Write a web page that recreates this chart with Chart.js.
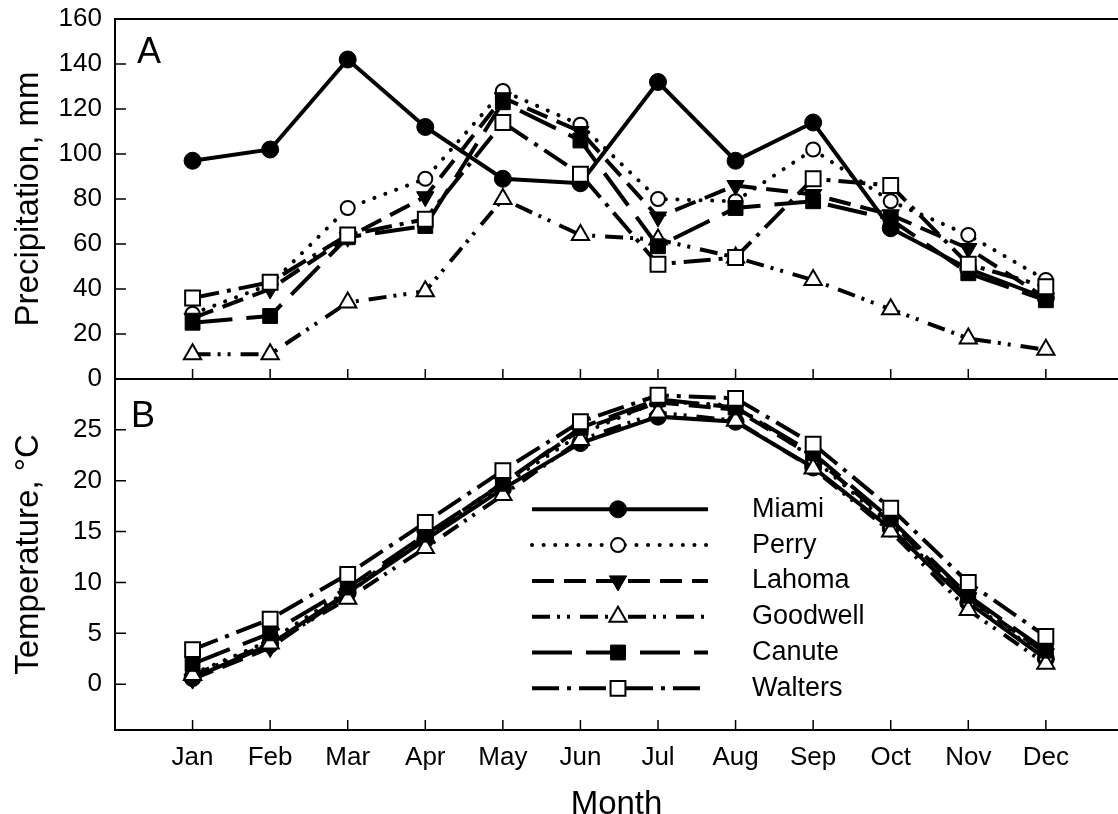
<!DOCTYPE html>
<html lang="en">
<head>
<meta charset="UTF-8">
<title>Monthly precipitation and temperature</title>
<script src="https://cdn.jsdelivr.net/npm/chart.js"></script>
<style>
    html, body {
        margin: 0;
        padding: 0;
        width: 1118px;
        height: 814px;
        overflow: hidden;
        background: #ffffff;
    }
    canvas {
        position: absolute;
        left: 0;
    }
    #precipChart { top: 0; }
    #tempChart { top: 379px; }
</style>
</head>
<body>
<canvas id="precipChart" width="1118" height="395"></canvas>
<canvas id="tempChart" width="1118" height="445"></canvas>

<script>
const months = ['Jan', 'Feb', 'Mar', 'Apr', 'May', 'Jun', 'Jul', 'Aug', 'Sep', 'Oct', 'Nov', 'Dec'];
const sites = ['Miami', 'Perry', 'Lahoma', 'Goodwell', 'Canute', 'Walters'];
const precipTicks = [0, 20, 40, 60, 80, 100, 120, 140, 160];
const tempTicks = [0, 5, 10, 15, 20, 25];

// precipitation, mm
const precipMiami    = [97, 102, 142, 112, 89, 87, 132, 97, 114, 67, 49, 36];
const precipPerry    = [29, 42, 76, 89, 128, 113, 80, 79, 102, 79, 64, 44];
const precipLahoma   = [27, 40, 63, 81, 125, 110, 72, 86, 82, 73, 58, 36];
const precipGoodwell = [11, 11, 34, 39, 80, 64, 62, 54, 44, 31, 18, 13];
const precipCanute   = [25, 28, 63, 68, 123, 106, 59, 76, 79, 71, 47, 35];
const precipWalters  = [36, 43, 64, 71, 114, 91, 51, 54, 89, 86, 51, 41];

// temperature, C
const tempMiami    = [0.6, 3.9, 9.0, 14.2, 19.2, 23.7, 26.3, 25.8, 21.3, 15.3, 8.0, 2.5];
const tempPerry    = [1.0, 4.3, 9.2, 14.4, 19.5, 24.6, 27.8, 27.4, 22.2, 15.6, 8.2, 2.6];
const tempLahoma   = [0.5, 3.6, 8.9, 14.5, 19.8, 25.0, 27.7, 27.0, 22.4, 15.9, 8.5, 3.0];
const tempGoodwell = [0.9, 4.0, 8.4, 13.4, 18.6, 24.0, 26.7, 25.9, 21.2, 15.0, 7.3, 2.0];
const tempCanute   = [2.0, 5.0, 9.5, 14.7, 19.7, 25.2, 28.0, 27.2, 22.7, 16.2, 8.7, 3.3];
const tempWalters  = [3.4, 6.4, 10.8, 15.9, 21.0, 25.8, 28.4, 28.1, 23.6, 17.3, 10.0, 4.7];

const FONT = '"Liberation Sans", Arial, sans-serif';
Chart.defaults.font.family = FONT;
Chart.defaults.color = '#000';

// line / marker look per site (same order as sites)
const siteStyles = [
    { point: 'circle',   radius: 8.5, fill: '#000', dash: [] },
    { point: 'circle',   radius: 7,   fill: '#fff', dash: [0.1, 11.5], cap: 'round' },
    { point: 'triangle', radius: 10,  fill: '#000', dash: [22, 10], rotation: 180 },
    { point: 'triangle', radius: 10,  fill: '#fff', dash: [18, 7, 3, 7, 3, 10] },
    { point: 'rect',     radius: 10.5, fill: '#000', dash: [40, 14] },
    { point: 'rect',     radius: 10.5, fill: '#fff', dash: [27, 8, 4, 8] }
];

function makeDatasets(series) {
    return sites.map((name, i) => {
        const st = siteStyles[i];
        return {
            label: name,
            data: series[i].map((v, j) => ({ x: j + 1, y: v })),
            borderColor: '#000',
            borderWidth: 4,
            borderDash: st.dash,
            borderCapStyle: st.cap || 'butt',
            pointStyle: st.point,
            pointRotation: st.rotation || 0,
            pointRadius: st.radius,
            pointBackgroundColor: st.fill,
            pointBorderColor: '#000',
            pointBorderWidth: st.fill === '#fff' ? 2 : 1,
            fill: false,
            tension: 0,
            order: sites.length - i
        };
    });
}

// frame, inward ticks and panel letter
const panelFrame = {
    id: 'panelFrame',
    afterDatasetsDraw(chart, args, opts) {
        const { ctx, chartArea: a, scales } = chart;
        ctx.save();
        ctx.strokeStyle = '#000';
        ctx.lineWidth = 2;
        ctx.beginPath();
        if (opts.drawTop) {
            ctx.moveTo(a.right, a.top);
            ctx.lineTo(a.left, a.top);
        } else {
            ctx.moveTo(a.left, a.top);
        }
        ctx.lineTo(a.left, a.bottom);
        ctx.lineTo(a.right, a.bottom);
        ctx.stroke();

        ctx.lineWidth = 1.5;
        ctx.beginPath();
        opts.yTicks.forEach(v => {
            const py = scales.y.getPixelForValue(v);
            ctx.moveTo(a.left, py);
            ctx.lineTo(a.left + 11, py);
        });
        months.forEach((m, i) => {
            const px = scales.x.getPixelForValue(i + 1);
            ctx.moveTo(px, a.bottom);
            ctx.lineTo(px, a.bottom - 10);
        });
        ctx.stroke();

        ctx.fillStyle = '#000';
        ctx.font = '36px ' + FONT;
        ctx.textAlign = 'left';
        ctx.textBaseline = 'alphabetic';
        ctx.fillText(opts.letter, a.left + opts.letterDx, a.top + opts.letterDy);
        ctx.restore();
    }
};

// legend with long line samples, drawn from the datasets' own styles
const siteLegend = {
    id: 'siteLegend',
    afterDraw(chart, args, opts) {
        if (!opts.show) return;
        const ctx = chart.ctx;
        chart.data.datasets.forEach((ds, i) => {
            const y = opts.top + i * opts.rowGap;
            ctx.save();
            ctx.strokeStyle = '#000';
            ctx.lineWidth = ds.borderWidth;
            ctx.setLineDash(ds.borderDash);
            ctx.lineCap = ds.borderCapStyle;
            ctx.beginPath();
            ctx.moveTo(opts.lineStart, y);
            ctx.lineTo(opts.lineEnd, y);
            ctx.stroke();
            ctx.setLineDash([]);
            ctx.lineCap = 'butt';
            ctx.fillStyle = ds.pointBackgroundColor;
            ctx.lineWidth = ds.pointBorderWidth;
            Chart.helpers.drawPoint(ctx, {
                pointStyle: ds.pointStyle,
                rotation: ds.pointRotation,
                radius: ds.pointRadius,
                borderWidth: ds.pointBorderWidth
            }, opts.markerX, y);
            ctx.fillStyle = '#000';
            ctx.font = '27px ' + FONT;
            ctx.textAlign = 'left';
            ctx.textBaseline = 'middle';
            ctx.fillText(ds.label, opts.textX, y);
            ctx.restore();
        });
    }
};

const xMax = 12.93;

function yAxis(min, max, ticks, title) {
    return {
        min: min,
        max: max,
        afterBuildTicks: s => { s.ticks = ticks.map(v => ({ value: v })); },
        afterFit: s => { s.width = 115; s.paddingTop = 0; s.paddingBottom = 0; },
        grid: { display: false, drawTicks: false },
        border: { display: false },
        ticks: { padding: 13, color: '#000', font: { size: 26 } },
        title: {
            display: true,
            text: title,
            color: '#000',
            font: { size: 33, lineHeight: 1 },
            padding: { top: 12, bottom: 0 }
        }
    };
}

new Chart(document.getElementById('precipChart'), {
    type: 'line',
    data: {
        datasets: makeDatasets([precipMiami, precipPerry, precipLahoma, precipGoodwell, precipCanute, precipWalters])
    },
    options: {
        responsive: false,
        animation: false,
        layout: { autoPadding: false, padding: { top: 19, bottom: 16, left: 0, right: 0 } },
        plugins: {
            legend: { display: false },
            tooltip: { enabled: false },
            panelFrame: { letter: 'A', letterDx: 22, letterDy: 44, drawTop: true, yTicks: precipTicks },
            siteLegend: { show: false }
        },
        scales: {
            x: { type: 'linear', min: 0, max: xMax, display: false },
            y: yAxis(0, 160, precipTicks, 'Precipitation, mm')
        }
    },
    plugins: [panelFrame, siteLegend]
});

new Chart(document.getElementById('tempChart'), {
    type: 'line',
    data: {
        datasets: makeDatasets([tempMiami, tempPerry, tempLahoma, tempGoodwell, tempCanute, tempWalters])
    },
    options: {
        responsive: false,
        animation: false,
        layout: { autoPadding: false, padding: { top: 0, bottom: 0, left: 0, right: 0 } },
        plugins: {
            legend: { display: false },
            tooltip: { enabled: false },
            panelFrame: { letter: 'B', letterDx: 16, letterDy: 48, drawTop: false, yTicks: tempTicks },
            siteLegend: { show: true, top: 130.3, rowGap: 35.8, lineStart: 532, lineEnd: 708, markerX: 618, textX: 752 }
        },
        scales: {
            x: {
                type: 'linear',
                min: 0,
                max: xMax,
                afterBuildTicks: s => { s.ticks = months.map((m, i) => ({ value: i + 1 })); },
                afterFit: s => { s.height = 94; s.paddingLeft = 0; s.paddingRight = 0; },
                grid: { display: false, drawTicks: false },
                border: { display: false },
                ticks: {
                    padding: 12,
                    color: '#000',
                    autoSkip: false,
                    maxRotation: 0,
                    font: { size: 26 },
                    callback: v => months[v - 1]
                },
                title: {
                    display: true,
                    text: 'Month',
                    color: '#000',
                    font: { size: 33, lineHeight: 1 },
                    padding: { top: 0, bottom: 2.5 }
                }
            },
            y: yAxis(-4.5, 30, tempTicks, 'Temperature, \u00B0C')
        }
    },
    plugins: [panelFrame, siteLegend]
});
</script>
</body>
</html>
